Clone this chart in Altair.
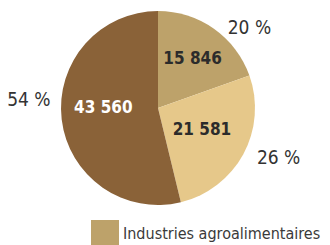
import altair as alt
import pandas as pd

categories = ["Industries agroalimentaires", "Secteur 2", "Secteur 3"]
values = [15846, 21581, 43560]
value_labels = ["15 846", "21 581", "43 560"]
pct_labels = ["20 %", "26 %", "54 %"]
colors = ["#BDA26A", "#E6C88A", "#8A6238"]

df = pd.DataFrame({
    "cat": categories,
    "value": values,
    "vlabel": value_labels,
    "plabel": pct_labels,
    "idx": list(range(len(categories))),
})
total = float(sum(values))

FONT = "DejaVu Sans Condensed"

theta_scale = alt.Scale(domain=[0, total])

base = alt.Chart(df).transform_window(
    cum="sum(value)", sort=[alt.SortField("idx")]
).transform_calculate(mid="datum.cum - datum.value / 2")

pie = base.mark_arc(outerRadius=97).encode(
    theta=alt.Theta("value:Q", stack=True, scale=theta_scale),
    order=alt.Order("idx:Q"),
    color=alt.Color(
        "cat:N",
        scale=alt.Scale(domain=categories, range=colors),
        sort=categories,
        legend=alt.Legend(
            values=[categories[0]],
            orient="none",
            legendX=83,
            legendY=212,
            title=None,
            symbolType="square",
            symbolSize=784,
            symbolStrokeWidth=0,
            symbolOpacity=1,
            labelFont=FONT,
            labelFontSize=16,
            labelColor="#3a3a3a",
            labelOffset=4,
            labelLimit=400,
        ),
    ),
)

# value label settings: (radius, dx, dy, color)
vset = [(60, 0, 0, "#2b2b2b"), (50, 0, -2, "#2b2b2b"), (55, 0, -7, "#ffffff")]
# percent label settings: (radius, dx, dy)
pset = [(110, 28, 10), (128, 8, -11), (128, -2, -23)]

layers = [pie]
for i in range(len(categories)):
    sub = base.transform_filter(alt.datum.idx == i)
    r, dx, dy, c = vset[i]
    layers.append(
        sub.mark_text(radius=r, dx=dx, dy=dy, font=FONT, fontSize=17, fontWeight="bold",
                      color=c, align="center", baseline="middle")
        .encode(theta=alt.Theta("mid:Q", stack=False, scale=theta_scale), text="vlabel:N")
    )
    r, dx, dy = pset[i]
    layers.append(
        sub.mark_text(radius=r, dx=dx, dy=dy, font=FONT, fontSize=19,
                      color="#333333", align="center", baseline="middle")
        .encode(theta=alt.Theta("mid:Q", stack=False, scale=theta_scale), text="plabel:N")
    )

chart = (
    alt.layer(*layers)
    .properties(
        width=300,
        height=200,
        padding={"left": 0, "top": 0, "right": 14, "bottom": 37},
        autosize=alt.AutoSizeParams(type="none"),
    )
    .configure_view(strokeWidth=0)
)

chart.save("out.html", embed_options={"renderer": "svg", "actions": False})
